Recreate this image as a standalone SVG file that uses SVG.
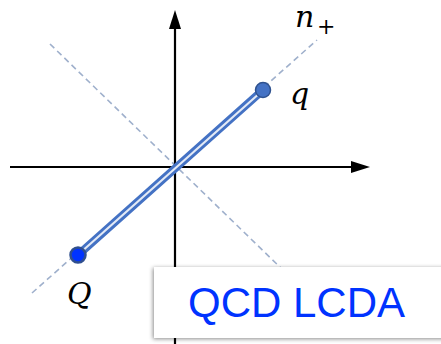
<svg xmlns="http://www.w3.org/2000/svg" width="441" height="344" viewBox="0 0 441 344">
<defs>
<style>
.axis{stroke:#000;stroke-width:2.2;fill:none}
.dash{stroke:#9fb0cc;stroke-width:1.6;stroke-dasharray:6 4;fill:none}
.math{font-family:"Cambria Math","DejaVu Serif","Liberation Serif",serif;font-style:italic;fill:#000}
</style>
<filter id="sh" x="-10%" y="-20%" width="130%" height="150%">
<feDropShadow dx="-1" dy="1" stdDeviation="2" flood-color="#000" flood-opacity="0.45"/>
</filter>
</defs>
<rect width="441" height="344" fill="#fff"/>
<g id="connectors">
<line class="dash" x1="32" y1="293" x2="317" y2="40"/>
<line class="dash" x1="50" y1="44" x2="285" y2="272"/>
<line class="axis" x1="175" y1="344" x2="175" y2="26"/>
<polygon points="175,10 169,29 181,29" fill="#000"/>
<line class="axis" x1="10" y1="167" x2="352" y2="167"/>
<polygon points="370,167 351,161 351,173" fill="#000"/>
<line x1="78" y1="255" x2="263" y2="90" stroke="#4472c4" stroke-width="8" stroke-linecap="round"/>
<line x1="80" y1="253" x2="261" y2="92" stroke="#fff" stroke-width="2.2" opacity="0.85"/>
</g>
<g id="node-q">
<circle cx="263" cy="90" r="7.5" fill="#4472c4" stroke="#2f528f" stroke-width="1.5"/>
<text class="math" x="290" y="104" font-size="30">q</text>
</g>
<g id="node-Q">
<circle cx="78" cy="255" r="7.5" fill="#0033ff" stroke="#2f4f8f" stroke-width="2.5"/>
<text class="math" x="67" y="304" font-size="30">Q</text>
</g>
<g id="label-n">
<text class="math" x="295" y="27" font-size="30">n</text>
<text x="317" y="34" font-size="22" font-family="DejaVu Serif,serif" fill="#000">+</text>
</g>
<g id="node-box">
<rect x="154" y="267" width="300" height="71" fill="#fff" filter="url(#sh)"/>
<text x="188" y="317" font-family="Liberation Sans,Arial,sans-serif" font-size="42" fill="#0033ff">QCD LCDA</text>
</g>
</svg>
